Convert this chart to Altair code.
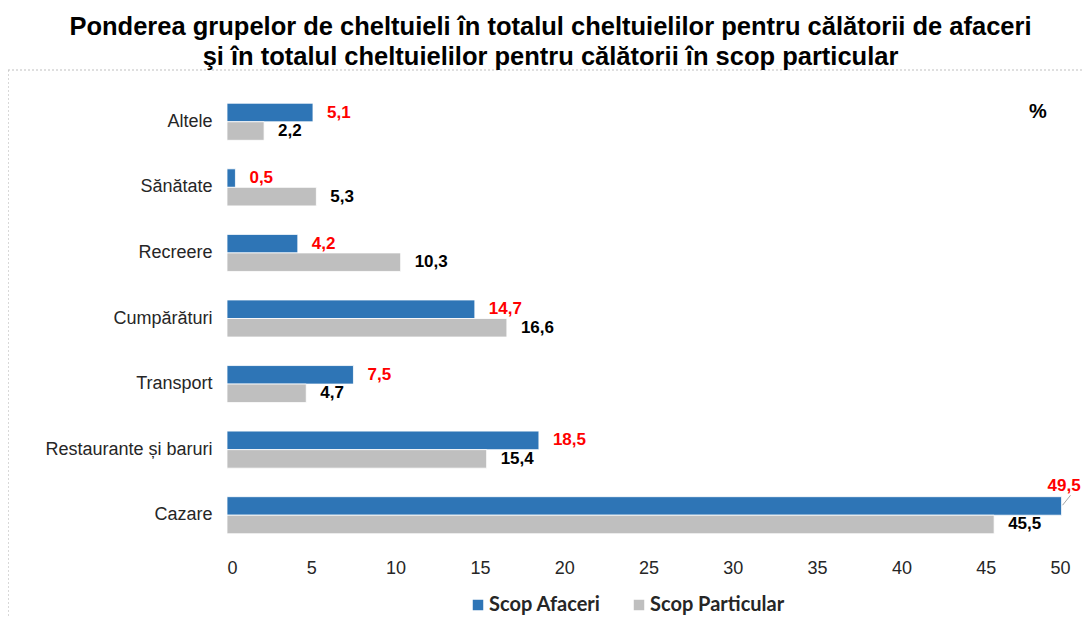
import altair as alt
import pandas as pd

categories = ["Altele", "Sănătate", "Recreere", "Cumpărături", "Transport",
              "Restaurante  și baruri", "Cazare"]
series = ["Scop Afaceri", "Scop Particular"]
afaceri = [5.1, 0.5, 4.2, 14.7, 7.5, 18.5, 49.5]
particular = [2.2, 5.3, 10.3, 16.6, 4.7, 15.4, 45.5]
x_ticks = [0, 5, 10, 15, 20, 25, 30, 35, 40, 45, 50]
title_lines = ["Ponderea grupelor de cheltuieli în totalul cheltuielilor pentru călătorii de afaceri",
               "şi în totalul cheltuielilor pentru călătorii în scop particular"]

rows = []
for c, a, p in zip(categories, afaceri, particular):
    rows.append({"cat": c, "series": series[0], "value": a})
    rows.append({"cat": c, "series": series[1], "value": p})
df = pd.DataFrame(rows)
df["label"] = df["value"].map(lambda v: f"{v:.1f}".replace(".", ","))

W, H = 843, 459
FONT = "Liberation Sans"

y_enc = alt.Y("cat:N", sort=categories, title=None,
              scale=alt.Scale(paddingInner=0.435, paddingOuter=0.2175),
              axis=alt.Axis(ticks=False, domain=False, labelFontSize=18,
                            labelFont=FONT, labelColor="#262626", labelPadding=15,
                            labelLimit=300))
yoff = alt.YOffset("series:N", sort=series)
x_enc = alt.X("value:Q", title=None,
              scale=alt.Scale(domain=[0, 50], nice=False),
              axis=alt.Axis(values=x_ticks, ticks=False, domain=False, grid=False,
                            labelFontSize=18, labelFont=FONT, labelColor="#262626",
                            labelPadding=11))

base = alt.Chart(df)

bars = base.mark_bar(stroke="white", strokeWidth=0.8).encode(
    x=x_enc, y=y_enc, yOffset=yoff,
    color=alt.Color("series:N", sort=series,
                    scale=alt.Scale(domain=series, range=["#2E75B6", "#BFBFBF"]),
                    legend=alt.Legend(title=None, orient="none", direction="horizontal",
                                      legendX=241, legendY=506, symbolType="square",
                                      symbolSize=110, symbolStrokeWidth=0,
                                      labelFont="Lato", labelFontWeight="bold",
                                      labelFontSize=20, labelColor="#262626",
                                      labelOffset=1, columnPadding=28, padding=0)),
)

labels = base.mark_text(align="left", baseline="middle", dx=14, fontSize=17,
                        font=FONT, fontWeight="bold").encode(
    x="value:Q", y=alt.Y("cat:N", sort=categories), yOffset=yoff,
    text="label:N",
    color=alt.Color("series:N", sort=series,
                    scale=alt.Scale(domain=series, range=["#FF0000", "#000000"]),
                    legend=None),
).transform_filter("datum.value < 48")

callout = base.mark_text(align="left", baseline="middle", dx=-14, dy=-20, fontSize=17,
                         font=FONT, fontWeight="bold", color="#FF0000").encode(
    x="value:Q", y=alt.Y("cat:N", sort=categories), yOffset=yoff, text="label:N",
).transform_filter("datum.value >= 48")

leader = base.mark_rule(color="#A6A6A6", strokeWidth=1, xOffset=1, x2Offset=9,
                        yOffset=-10, y2Offset=-20).encode(
    x="value:Q", x2="value:Q",
    y=alt.Y("cat:N", sort=categories), y2=alt.Y2("cat:N"),
).transform_filter("datum.value >= 48")

pct = alt.Chart(pd.DataFrame({"t": ["%"]})).mark_text(
    fontSize=20, font=FONT, fontWeight="bold", color="#000000").encode(
    x=alt.value(811), y=alt.value(23), text="t:N")

border = alt.Chart(pd.DataFrame({"t": [1]})).mark_rect(
    fill=None, stroke="#BFBFBF", strokeWidth=1.2, strokeDash=[2, 2]).encode(
    x=alt.value(-219), x2=alt.value(866), y=alt.value(-19), y2=alt.value(545))

chart = alt.layer(border, bars, labels, callout, leader, pct).resolve_scale(
    color="independent"
).properties(
    width=W, height=H,
    padding={"left": 219, "top": 81, "right": 12, "bottom": 68},
    autosize=alt.AutoSizeParams(type="none"),
    title=alt.TitleParams(title_lines, font=FONT, fontSize=25.5, fontWeight="bold",
                          color="#000000", anchor="middle", frame="bounds",
                          offset=1, dy=2, lineHeight=30),
).configure_view(stroke=None)

chart.save("out.html", embed_options={"renderer": "svg", "actions": False})
